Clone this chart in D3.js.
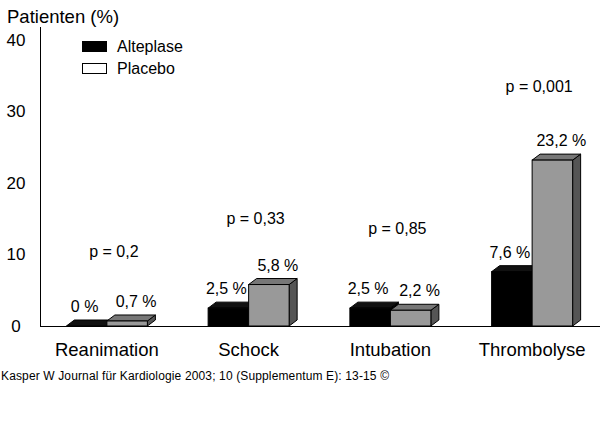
<!DOCTYPE html>
<html>
<head>
<meta charset="utf-8">
<script src="https://cdn.jsdelivr.net/npm/d3@7"></script>
<style>
  body { margin: 0; background: #fff; }
  text { font-family: "Liberation Sans", Arial, sans-serif; fill: #000; }
</style>
</head>
<body>
<div id="chartHolder"></div>
<script>
const categories = ["Reanimation", "Schock", "Intubation", "Thrombolyse"];
const series = ["Alteplase", "Placebo"];
const alteplase = [0, 2.5, 2.5, 7.6];
const placebo = [0.7, 5.8, 2.2, 23.2];
const alteplaseLabels = ["0 %", "2,5 %", "2,5 %", "7,6 %"];
const placeboLabels = ["0,7 %", "5,8 %", "2,2 %", "23,2 %"];
const pLabels = ["p = 0,2", "p = 0,33", "p = 0,85", "p = 0,001"];
const pLevels = [10.3, 14.8, 13.4, 33.3];
const yTicks = [0, 10, 20, 30, 40];

function GetChart(){
    const width = 600;
    const height = 429;
    const svg = d3.select("#chartHolder")
        .append("svg")
        .attr("width", width)
        .attr("height", height);

    const x = d3.scaleBand()
        .domain(categories)
        .range([36, 603]);
    const y = d3.scaleLinear()
        .domain([0, 40])
        .range([326, 40]);

    const barW = 40.5;
    const dx = 8, dy = -6;

    // y axis: line only, labels left
    svg.append("line")
        .attr("x1", 40.5).attr("x2", 40.5)
        .attr("y1", 27).attr("y2", y(0))
        .attr("stroke", "#000");
    const yAxis = svg.append("g")
        .attr("transform", "translate(28,0)")
        .call(d3.axisLeft(y).tickValues(yTicks).tickSize(0).tickPadding(0));
    yAxis.select(".domain").remove();
    yAxis.selectAll("text")
        .attr("text-anchor", "middle")
        .attr("x", -12)
        .style("font-size", "17px")
        .style("font-family", "Liberation Sans, Arial, sans-serif");

    svg.append("text")
        .attr("x", 7).attr("y", 23)
        .style("font-size", "18.5px")
        .text("Patienten (%)");

    // bars
    const colors = {
        Alteplase: {front: "#000", top: "#111", side: "#000"},
        Placebo: {front: "#999", top: "#777", side: "#555"}
    };
    const rows = [];
    categories.forEach((c, i) => {
        rows.push({cat: c, s: "Alteplase", v: alteplase[i], lab: alteplaseLabels[i], off: -barW, lx: -2});
        rows.push({cat: c, s: "Placebo", v: placebo[i], lab: placeboLabels[i], off: 0, lx: 9});
    });

    const g = svg.append("g");
    rows.forEach(d => {
        const x0 = x(d.cat) + x.bandwidth() / 2 + d.off;
        const x1 = x0 + barW;
        const yt = y(d.v);
        const yb = y(0);
        const col = colors[d.s];
        // side
        g.append("path")
            .attr("d", `M${x1},${yb}L${x1 + dx},${yb + dy}L${x1 + dx},${yt + dy}L${x1},${yt}Z`)
            .attr("fill", col.side).attr("stroke", "#000").attr("stroke-width", 1);
        // top
        g.append("path")
            .attr("d", `M${x0},${yt}L${x0 + dx},${yt + dy}L${x1 + dx},${yt + dy}L${x1},${yt}Z`)
            .attr("fill", col.top).attr("stroke", "#000").attr("stroke-width", 1);
        // front
        g.append("rect")
            .attr("x", x0).attr("y", yt)
            .attr("width", barW).attr("height", yb - yt)
            .attr("fill", col.front).attr("stroke", "#000").attr("stroke-width", 1);
        // value label
        svg.append("text")
            .attr("x", x0 + barW / 2 + d.lx)
            .attr("y", yt + dy - 8)
            .attr("text-anchor", "middle")
            .style("font-size", "16px")
            .text(d.lab);
    });

    // baseline
    svg.append("line")
        .attr("x1", 40).attr("x2", 600)
        .attr("y1", y(0) + 0.5).attr("y2", y(0) + 0.5)
        .attr("stroke", "#000");

    // p values
    svg.selectAll(".pval")
        .data(pLabels)
        .enter()
        .append("text")
        .attr("class", "pval")
        .attr("x", (d, i) => x(categories[i]) + x.bandwidth() / 2 + 7)
        .attr("y", (d, i) => y(pLevels[i]))
        .attr("text-anchor", "middle")
        .attr("dominant-baseline", "middle")
        .style("font-size", "16px")
        .text(d => d);

    // category labels
    svg.selectAll(".cat")
        .data(categories)
        .enter()
        .append("text")
        .attr("class", "cat")
        .attr("x", d => x(d) + x.bandwidth() / 2)
        .attr("y", 356)
        .attr("text-anchor", "middle")
        .style("font-size", "18.5px")
        .text(d => d);

    // legend
    const leg = svg.append("g").attr("transform", "translate(82,41)");
    series.forEach((s, i) => {
        leg.append("rect")
            .attr("x", 0.5).attr("y", i * 22 + 0.5)
            .attr("width", 24).attr("height", 10)
            .attr("fill", i === 0 ? "#000" : "#fff")
            .attr("stroke", "#000");
        leg.append("text")
            .attr("x", 35).attr("y", i * 22 + 11)
            .style("font-size", "16px")
            .text(s);
    });

    // source
    svg.append("text")
        .attr("x", 1).attr("y", 380)
        .attr("textLength", 388)
        .attr("lengthAdjust", "spacing")
        .style("font-size", "12px")
        .text("Kasper W Journal für Kardiologie 2003; 10 (Supplementum E): 13-15 ©");
}
GetChart();
</script>
</body>
</html>
